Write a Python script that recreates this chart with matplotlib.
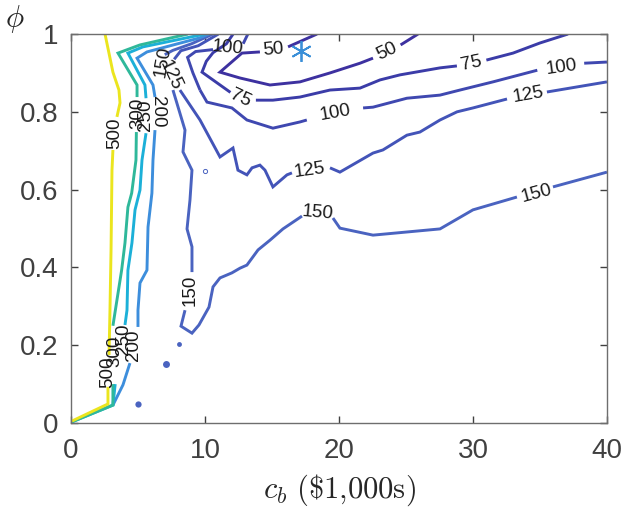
import numpy as np
import matplotlib
matplotlib.use("Agg")
import matplotlib.pyplot as plt

# contour levels and their (parula-like) colours
levels = [50, 75, 100, 125, 150, 200, 250, 300, 500]
level_colors = ['#3d31a0', '#3b3ca8', '#3f48b0', '#4354b8', '#4a63c0',
                '#3d8edc', '#1cb0d8', '#2fb89a', '#ebe51e']

# contour pieces, (c_b, phi); pieces break at the labels
c500 = [
    [(0.07, 0.005), (2.76, 0.049), (2.76, 0.093)],
    [(2.84, 0.175), (2.91, 0.29), (2.99, 0.445), (3.06, 0.65), (3.13, 0.702)],
    [(3.43, 0.787), (3.66, 0.823), (3.58, 0.856), (3.13, 0.902), (2.54, 1.0)],
]
c300 = [
    [(0.07, 0.003), (3.13, 0.046), (3.13, 0.10)],
    [(3.13, 0.25), (3.43, 0.316), (3.78, 0.393), (4.03, 0.463), (4.25, 0.555),
     (4.53, 0.591), (4.85, 0.676), (4.88, 0.748)],
    [(4.93, 0.838), (4.93, 0.869), (3.51, 0.951), (5.15, 0.972), (8.73, 1.0)],
]
c250 = [
    [(0.07, 0.003), (3.13, 0.046), (3.3, 0.10)],
    [(4.03, 0.252), (4.18, 0.29), (4.25, 0.393), (4.55, 0.463), (4.78, 0.548),
     (5.15, 0.599), (5.3, 0.676), (5.6, 0.745)],
    [(5.6, 0.835), (5.52, 0.869), (4.25, 0.951), (5.37, 0.967), (10.0, 1.0)],
]
c200 = [
    [(3.13, 0.046), (3.88, 0.098), (4.4, 0.154)],
    [(5.0, 0.247), (5.0, 0.29), (5.15, 0.36), (5.67, 0.393), (5.75, 0.504),
     (6.04, 0.591), (6.12, 0.676), (6.27, 0.753)],
    [(6.27, 0.838), (6.12, 0.869), (4.93, 0.938), (5.67, 0.954), (9.6, 0.99),
     (10.3, 1.0)],
]
c150 = [
    [(10.6, 1.0), (9.0, 0.975), (7.6, 0.958), (7.0, 0.947)],
    [(7.61, 0.856), (8.51, 0.753), (8.36, 0.697), (9.03, 0.65), (8.88, 0.573),
     (8.66, 0.499), (9.03, 0.453), (9.03, 0.388)],
    [(8.51, 0.29), (8.21, 0.249), (9.03, 0.231), (9.55, 0.252), (10.3, 0.298),
     (10.6, 0.35), (11.12, 0.373), (12.01, 0.386), (12.61, 0.398), (13.13, 0.406),
     (13.96, 0.445), (14.85, 0.47), (15.82, 0.499), (17.24, 0.532)],
    [(19.55, 0.527), (20.07, 0.501), (22.54, 0.483), (27.54, 0.499), (30.0, 0.548),
     (33.28, 0.581)],
    [(35.97, 0.607), (40.0, 0.645)],
]
c125 = [
    [(11.0, 1.0), (9.5, 0.97), (8.2, 0.957), (7.7, 0.935)],
    [(8.13, 0.856), (9.63, 0.779), (11.12, 0.684), (12.09, 0.707), (12.46, 0.65),
     (13.13, 0.638), (13.51, 0.656), (14.1, 0.663), (14.48, 0.65), (15.07, 0.607),
     (16.12, 0.638), (16.49, 0.643)],
    [(19.33, 0.656), (20.07, 0.645), (22.54, 0.694), (23.28, 0.702), (25.07, 0.74),
     (26.04, 0.748), (27.54, 0.779), (28.81, 0.8), (30.0, 0.81), (32.54, 0.833)],
    [(35.52, 0.851), (40.0, 0.877)],
]
c100 = [
    [(9.63, 0.856), (9.1, 0.9), (8.7, 0.94), (9.3, 0.955), (10.6, 0.96)],
    [(12.85, 0.975), (13.2, 1.0)],
    [(9.63, 0.856), (10.15, 0.825), (12.01, 0.81), (13.13, 0.779), (15.07, 0.758),
     (17.09, 0.774), (17.6, 0.779)],
    [(21.8, 0.81), (22.54, 0.812), (25.07, 0.835), (27.54, 0.843), (29.03, 0.856),
     (31.49, 0.877), (34.8, 0.907)],
    [(38.3, 0.925), (40.0, 0.928)],
]
c75 = [
    [(11.9, 0.85), (9.78, 0.902), (10.1, 0.93), (10.6, 0.952), (11.6, 0.975), (12.1, 1.0)],
    [(13.8, 0.83), (15.07, 0.83), (17.09, 0.838), (19.33, 0.856), (21.57, 0.861),
     (23.06, 0.882), (24.55, 0.895), (27.54, 0.913), (28.8, 0.918)],
    [(31.0, 0.933), (32.99, 0.951), (35.0, 0.977), (37.09, 1.0)],
]
c50 = [
    [(18.36, 1.0), (16.2, 0.967)],
    [(14.1, 0.954), (12.76, 0.951), (11.12, 0.902), (12.61, 0.887), (14.85, 0.869),
     (17.09, 0.877), (19.33, 0.9), (21.57, 0.925), (22.54, 0.938)],
    [(24.6, 0.972), (25.9, 1.0)],
]
contours = [c50, c75, c100, c125, c150, c200, c250, c300, c500]

# inline labels: (level, c_b, phi, rotation)
labels = [
    (500, 2.76, 0.131, 90), (500, 3.28, 0.746, 90),
    (300, 3.3, 0.185, 90), (300, 5.0, 0.795, 90),
    (250, 3.95, 0.215, 90), (250, 5.55, 0.79, 90),
    (200, 4.65, 0.20, 90), (200, 6.42, 0.80, -90),
    (150, 6.87, 0.928, 80), (150, 8.88, 0.342, 90),
    (150, 18.43, 0.54, -5), (150, 34.78, 0.591, 15),
    (125, 7.39, 0.895, -65), (125, 17.84, 0.65, 8), (125, 34.1, 0.843, 10),
    (100, 11.72, 0.964, -5), (100, 19.7, 0.797, 10), (100, 36.6, 0.915, 8),
    (75, 12.61, 0.835, -25), (75, 29.9, 0.925, 12),
    (50, 15.1, 0.959, 5), (50, 23.6, 0.954, 25),
]

# tiny closed 150 contours (isolated dots): position and marker size
dot_x = [8.06, 7.09, 5.0]
dot_y = [0.203, 0.152, 0.049]
dot_size = [3.5, 5, 4.5]
ring_x, ring_y = 10.0, 0.648

star_x, star_y = 17.2, 0.957

plt.rcParams['font.family'] = ['Liberation Sans', 'DejaVu Sans']
plt.rcParams['mathtext.fontset'] = 'cm'

fig = plt.figure(figsize=(6.21, 5.08), dpi=100)
ax = fig.add_axes([0.1143, 0.1673, 0.8631, 0.7657])

for lev, col, pieces in zip(levels, level_colors, contours):
    for seg in pieces:
        xs, ys = zip(*seg)
        ax.plot(xs, ys, color=col, lw=2.1, solid_joinstyle='miter',
                solid_capstyle='butt')

for lev, x, y, rot in labels:
    ax.text(x, y, str(lev), fontsize=13.5, color='#1a1a1a', rotation=rot,
            ha='center', va='center', rotation_mode='anchor')

for x, y, s in zip(dot_x, dot_y, dot_size):
    ax.plot(x, y, 'o', color=level_colors[4], ms=s, mew=0)
ax.plot(ring_x, ring_y, 'o', color=level_colors[4], ms=3, mew=0.7, mfc='white')

ax.plot(star_x, star_y, marker=(6, 2, 0), color='#3a8fd8', ms=15, mew=1.3,
        linestyle='none')

ax.set_xlim(0, 40)
ax.set_ylim(0, 1)
ax.set_xticks([0, 10, 20, 30, 40])
ax.set_yticks([0, 0.2, 0.4, 0.6, 0.8, 1])
ax.set_yticklabels(['0', '0.2', '0.4', '0.6', '0.8', '1'])
ax.tick_params(direction='in', length=5, width=1, top=True, right=True,
               labelsize=20, colors='#404040', pad=9)
ax.tick_params(axis='x', pad=11)
for sp in ax.spines.values():
    sp.set_color('#6e6e6e')
    sp.set_linewidth(1.0)

ax.set_xlabel(r'$c_b\ (\$1{,}000\mathrm{s})$', fontsize=22, color='#262626', labelpad=6)
fig.text(0.024, 0.962, r'$\phi$', fontsize=22, color='#262626', ha='center', va='center')

fig.savefig('out.png', dpi=100)
